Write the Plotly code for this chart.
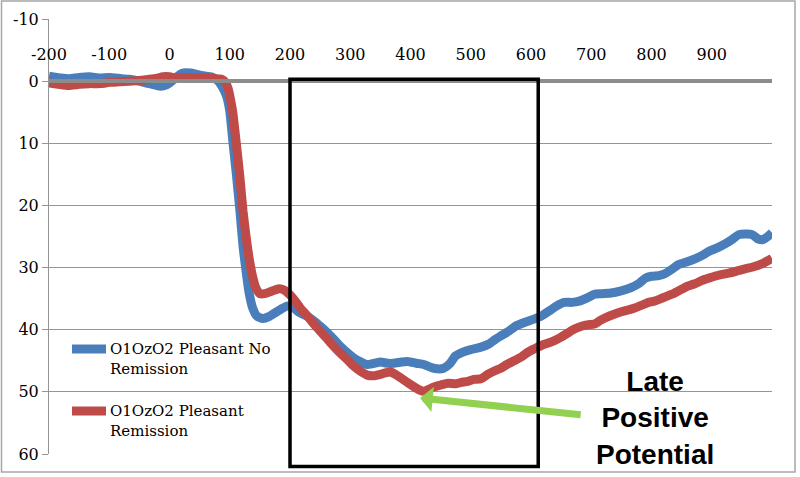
"""
ERP waveform chart: O1OzO2 pleasant, remission vs no remission.
"""

import plotly.graph_objects as go


# ---------------------------------------------------------------------------
# Data (ms vs microvolts, negative up)
# ---------------------------------------------------------------------------

NO_REM_MS = [
    -200, -180, -167, -150, -133, -115, -100, -80, -67, -50, -38, -25, -17, -8,
    0, 10, 22, 35, 45, 60, 72, 80, 88, 95, 100, 105, 111, 117, 122, 127, 132,
    138, 145, 155, 165, 175, 185, 195, 205, 215, 228, 240, 252, 262, 275, 285,
    295, 305, 318, 328, 340, 350, 362, 372, 385, 395, 410, 422, 435, 445, 455,
    465, 475, 487, 500, 517, 530, 540, 550, 562, 575, 590, 605, 617, 630, 642,
    655, 668, 680, 695, 705, 717, 733, 748, 767, 780, 790, 800, 812, 822, 835,
    845, 858, 872, 885, 895, 910, 922, 935, 945, 958, 967, 977, 985, 993, 1000,
]
NO_REM_UV = [
    -0.8, -0.5, -0.4, -0.6, -0.7, -0.5, -0.6, -0.4, -0.3, 0.0, 0.3, 0.6, 0.8, 0.7,
    0.3, -0.5, -1.3, -1.3, -1.1, -0.8, -0.6, -0.1, 1.0, 2.5, 4.8, 9.5, 15.0, 21.0,
    26.5, 30.5, 34.0, 36.5, 37.8, 38.2, 37.9, 37.3, 36.7, 36.2, 36.4, 37.2, 37.8,
    38.6, 39.6, 40.5, 41.8, 42.8, 43.7, 44.5, 45.2, 45.6, 45.4, 45.2, 45.4, 45.4,
    45.2, 45.1, 45.4, 45.6, 46.1, 46.3, 46.2, 45.5, 44.2, 43.6, 43.2, 42.8, 42.3,
    41.6, 41.0, 40.3, 39.4, 38.8, 38.3, 37.8, 37.0, 36.2, 35.6, 35.6, 35.4, 34.8,
    34.3, 34.2, 34.1, 33.8, 33.2, 32.5, 31.7, 31.4, 31.3, 31.0, 30.2, 29.5, 29.1,
    28.6, 28.0, 27.4, 26.8, 26.2, 25.4, 24.7, 24.6, 24.7, 25.4, 25.5, 25.0, 24.4,
]

REM_MS = [
    -200, -185, -167, -150, -133, -115, -100, -83, -67, -50, -33, -20, -11, 0,
    10, 22, 40, 61, 75, 87, 93, 97, 101, 105, 108, 111, 117, 122, 128, 133, 138,
    143, 150, 158, 167, 175, 183, 192, 200, 208, 217, 228, 238, 250, 262, 272,
    283, 295, 305, 317, 328, 340, 350, 360, 367, 375, 383, 395, 406, 415, 422,
    430, 439, 450, 462, 475, 483, 495, 505, 517, 528, 540, 550, 560, 572, 585,
    595, 605, 618, 630, 638, 650, 660, 672, 685, 695, 705, 715, 725, 738, 750,
    762, 772, 785, 795, 805, 818, 828, 838, 850, 860, 872, 883, 895, 905, 918,
    928, 940, 955, 968, 983, 993, 1000,
]
REM_UV = [
    0.3, 0.5, 0.7, 0.5, 0.4, 0.4, 0.2, 0.1, 0.0, -0.1, -0.3, -0.5, -0.7, -0.7,
    -0.5, -0.6, -0.5, -0.5, -0.4, -0.3, 0.2, 1.1, 2.8, 5.0, 7.5, 10.1, 15.6, 20.9,
    25.7, 29.0, 31.5, 33.2, 34.2, 34.2, 33.9, 33.6, 33.4, 33.7, 34.4, 35.3, 36.5,
    37.7, 38.9, 40.2, 41.5, 42.6, 43.7, 44.8, 45.8, 46.7, 47.3, 47.4, 47.2, 46.9,
    46.8, 47.2, 47.7, 48.5, 49.2, 49.7, 49.9, 49.6, 49.2, 48.9, 48.6, 48.7, 48.5,
    48.3, 48.0, 47.9, 47.2, 46.6, 46.2, 45.6, 45.0, 44.3, 43.6, 43.1, 42.5, 42.1,
    41.8, 41.2, 40.6, 39.9, 39.4, 39.2, 39.1, 38.5, 38.0, 37.5, 37.1, 36.8, 36.5,
    36.0, 35.6, 35.4, 34.9, 34.5, 34.1, 33.5, 33.0, 32.6, 32.1, 31.7, 31.4, 31.1,
    30.9, 30.6, 30.2, 29.9, 29.4, 28.9, 28.5,
]

X_TICKS = [-200, -100, 0, 100, 200, 300, 400, 500, 600, 700, 800, 900]
Y_TICKS = [-10, 0, 10, 20, 30, 40, 50, 60]

X_RANGE = [-200, 1000]
Y_RANGE = [60, -10]  # reversed: negative up

LPP_WINDOW = [200, 612]  # boxed time window, ms

SERIES_NAMES = ["O1OzO2 Pleasant No<br>Remission", "O1OzO2 Pleasant<br>Remission"]

BLUE = "#4a7ebb"
RED = "#be4b48"
GREEN = "#92d050"
GRID = "#959595"
FONT = "DejaVu Serif"

# plot area in pixels (800x477 canvas)
PL, PR, PT, PB = 49, 772, 19, 454
PW, PH = PR - PL, PB - PT


def _xdom(v):
    return (v - X_RANGE[0]) / (X_RANGE[1] - X_RANGE[0])


def _ydom(v):
    return (Y_RANGE[0] - v) / (Y_RANGE[0] - Y_RANGE[1])


def _px(x):
    return (x - PL) / PW


def _py(y):
    return (PB - y) / PH


# ---------------------------------------------------------------------------
# Figure
# ---------------------------------------------------------------------------

fig = go.Figure()

for xs, ys, color in [(NO_REM_MS, NO_REM_UV, BLUE), (REM_MS, REM_UV, RED)]:
    fig.add_trace(
        go.Scatter(
            x=xs,
            y=ys,
            mode="lines",
            line=dict(color=color, width=9, shape="spline", smoothing=0.6),
            showlegend=False,
            hoverinfo="x+y",
        )
    )

# LPP box, allowed to run past the bottom of the plot area
fig.add_shape(
    type="rect",
    xref="x domain",
    yref="y domain",
    x0=_xdom(LPP_WINDOW[0]),
    x1=_xdom(LPP_WINDOW[1]),
    y0=_ydom(62),
    y1=_ydom(-0.3),
    line=dict(color="black", width=3.5),
    layer="above",
)

# outer chart border
fig.add_shape(
    type="rect",
    xref="paper",
    yref="paper",
    x0=_px(1.5),
    x1=_px(795),
    y0=_py(472),
    y1=_py(1),
    line=dict(color="#a6a6a6", width=1.5),
)

# hand-drawn legend (plotly caps legend line width)
for i, (name, color) in enumerate(zip(SERIES_NAMES, [BLUE, RED])):
    yc = 349 + i * 62
    fig.add_shape(
        type="line",
        xref="paper",
        yref="paper",
        x0=_px(72),
        x1=_px(106),
        y0=_py(yc),
        y1=_py(yc),
        line=dict(color=color, width=9),
    )
    fig.add_annotation(
        xref="paper",
        yref="paper",
        x=_px(108),
        y=_py(yc - 11),
        text=name,
        showarrow=False,
        align="left",
        xanchor="left",
        yanchor="top",
        font=dict(family=FONT, size=15, color="black"),
    )

fig.add_annotation(
    x=806,
    y=54.2,
    text="<b>Late<br>Positive<br>Potential</b>",
    showarrow=False,
    font=dict(family="Liberation Sans", size=28, color="black"),
    xanchor="center",
    yanchor="middle",
)
fig.add_annotation(
    x=416,
    y=51.0,
    ax=685,
    ay=53.7,
    axref="x",
    ayref="y",
    text="",
    showarrow=True,
    arrowhead=1,
    arrowsize=0.6,
    arrowwidth=7,
    arrowcolor=GREEN,
)

fig.update_layout(
    width=800,
    height=477,
    paper_bgcolor="white",
    plot_bgcolor="white",
    margin=dict(l=PL, r=800 - PR, t=PT, b=477 - PB),
    font=dict(family=FONT, size=16, color="black"),
    showlegend=False,
    xaxis=dict(
        range=X_RANGE,
        tickvals=X_TICKS,
        ticktext=[str(v) for v in X_TICKS],
        side="top",
        anchor="free",
        position=_ydom(0),
        showgrid=False,
        zeroline=False,
        showline=True,
        linecolor="#8c8c8c",
        linewidth=4,
        ticks="",
        ticklabelstandoff=13,
        automargin=False,
    ),
    yaxis=dict(
        range=Y_RANGE,
        tickvals=Y_TICKS,
        ticktext=[str(v) for v in Y_TICKS],
        showgrid=True,
        gridcolor=GRID,
        gridwidth=1,
        zeroline=False,
        showline=True,
        linecolor=GRID,
        linewidth=1,
        ticks="outside",
        ticklen=6,
        tickcolor=GRID,
        automargin=False,
    ),
)

# page body has an 8px default margin; drop it so the chart sits at 0,0
fig.write_html(
    "out.html",
    config={"displayModeBar": False},
    post_script="document.body.style.margin='0';",
)
